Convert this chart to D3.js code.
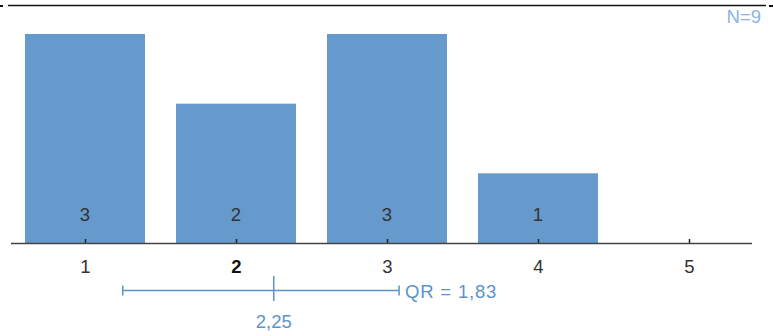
<!DOCTYPE html>
<html><head><meta charset="utf-8">
<script src="https://cdn.jsdelivr.net/npm/d3@7"></script>
<style>body{margin:0;background:#fff}svg{display:block}text{font-family:"Liberation Sans",Arial,sans-serif}</style>
</head><body>
<script>
const categories = [1, 2, 3, 4, 5];
const counts = [3, 2, 3, 1, 0];
const boldCategory = 2;
const nTotal = 9;
const median = 2.25;
const q1 = 1.25;
const q3 = 3.08;
const qrLabel = "QR = 1,83";
const medianLabel = "2,25";

const W = 773, H = 336;
const svg = d3.select("body").append("svg").attr("width", W).attr("height", H);
const blue = "#6699cc", textBlue = "#5b93cc";
const fs = 18.5;

const x = d3.scaleLinear().domain([1, 5]).range([85, 689]);
const y = d3.scaleLinear().domain([0, 3]).range([243, 34]);
const bw = 120;

// top rule
svg.append("line").attr("x1", 8).attr("x2", 766).attr("y1", 5.5).attr("y2", 5.5).attr("stroke", "#111").attr("stroke-width", 1.5);
svg.append("line").attr("x1", 0).attr("x2", 3).attr("y1", 6).attr("y2", 6).attr("stroke", "#111").attr("stroke-width", 2);
svg.append("line").attr("x1", 769).attr("x2", 773).attr("y1", 6).attr("y2", 6).attr("stroke", "#111").attr("stroke-width", 2);

svg.append("text").attr("x", 761).attr("y", 23).attr("text-anchor", "end").attr("font-size", fs).attr("fill", "#8db3e0").text("N=" + nTotal);

const data = categories.map((c, i) => ({c, v: counts[i]}));
svg.selectAll("rect.bar").data(data.filter(d => d.v > 0)).enter().append("rect")
  .attr("x", d => x(d.c) - bw / 2).attr("width", bw)
  .attr("y", d => y(d.v)).attr("height", d => y(0) - y(d.v)).attr("fill", blue);

svg.selectAll("text.val").data(data.filter(d => d.v > 0)).enter().append("text")
  .attr("x", d => x(d.c)).attr("y", 221).attr("text-anchor", "middle")
  .attr("font-size", fs).attr("fill", "#333").text(d => d.v);

// axis
const axis = d3.axisBottom(x).tickValues(categories).tickSize(0).tickPadding(0).tickFormat(d3.format("d"));
const ag = svg.append("g").attr("transform", "translate(0,243)").call(axis);
ag.select(".domain").remove();
ag.selectAll("text").remove();
svg.append("line").attr("x1", 11).attr("x2", 752).attr("y1", 243.5).attr("y2", 243.5).attr("stroke", "#444").attr("stroke-width", 1.5);
ag.selectAll(".tick").append("line").attr("y1", -4).attr("y2", 0).attr("stroke", "#222").attr("stroke-width", 1.5);
ag.selectAll(".tick").append("text").attr("y", 30).attr("text-anchor", "middle")
  .attr("font-size", fs).attr("fill", d => d === boldCategory ? "#111" : "#333")
  .attr("font-weight", d => d === boldCategory ? "bold" : "normal").text(d => d);

// QR bar
const qy = 290.5;
svg.append("line").attr("x1", x(q1)).attr("x2", x(q3)).attr("y1", qy).attr("y2", qy).attr("stroke", textBlue).attr("stroke-width", 1.5);
[q1, q3].forEach(q => svg.append("line").attr("x1", x(q)).attr("x2", x(q)).attr("y1", qy - 5).attr("y2", qy + 5).attr("stroke", textBlue).attr("stroke-width", 1.5));
svg.append("line").attr("x1", x(median)).attr("x2", x(median)).attr("y1", 276).attr("y2", 301).attr("stroke", textBlue).attr("stroke-width", 1.5);
svg.append("text").attr("x", x(q3) + 6).attr("y", 298).attr("font-size", fs).attr("letter-spacing", 0.8).attr("fill", textBlue).text(qrLabel);
svg.append("text").attr("x", x(median)).attr("y", 328).attr("text-anchor", "middle").attr("font-size", fs).attr("fill", textBlue).text(medianLabel);
</script>
</body></html>
